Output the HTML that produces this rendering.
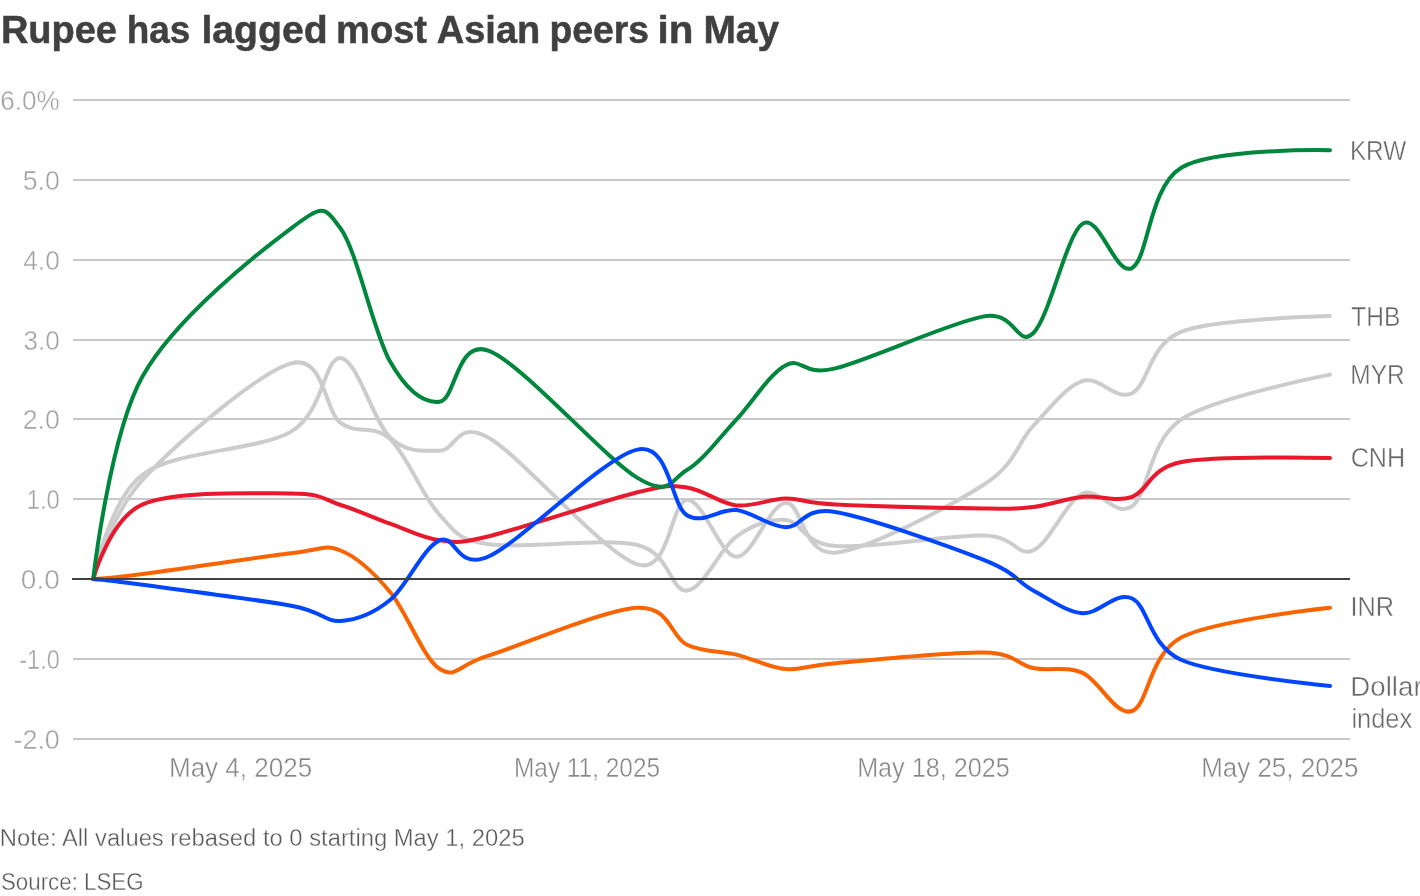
<!DOCTYPE html>
<html><head><meta charset="utf-8"><title>Rupee has lagged most Asian peers in May</title>
<style>
html,body{margin:0;padding:0;background:#fff;}
body{width:1420px;height:896px;overflow:hidden;position:relative;font-family:"Liberation Sans",sans-serif;}
svg{position:absolute;left:0;top:0;}
text{font-family:"Liberation Sans",sans-serif;}
.t{font-weight:bold;font-size:39.5px;fill:#404040;stroke:#404040;stroke-width:0.5px;}
.yl{font-size:27px;fill:#a2a2a2;stroke:#fff;stroke-width:0.4px;paint-order:fill stroke;}
.xl{font-size:27px;fill:#868686;stroke:#fff;stroke-width:0.4px;paint-order:fill stroke;}
.sl{font-size:27px;fill:#686868;stroke:#fff;stroke-width:0.4px;paint-order:fill stroke;}
.nt{font-size:23px;fill:#595959;stroke:#fff;stroke-width:0.35px;paint-order:fill stroke;}
</style></head><body>
<svg width="1420" height="896" viewBox="0 0 1420 896">
<g fill="#c8c8c8" shape-rendering="crispEdges">
<rect x="73" y="99" width="1277" height="2"/>
<rect x="73" y="179" width="1277" height="2"/>
<rect x="73" y="259" width="1277" height="2"/>
<rect x="73" y="339" width="1277" height="2"/>
<rect x="73" y="418" width="1277" height="2"/>
<rect x="73" y="498" width="1277" height="2"/>
<rect x="73" y="658" width="1277" height="2"/>
<rect x="73" y="738" width="1277" height="2"/>
</g>
<path d="M93.25,579.00C93.25,579.00,109.74,515.63,142.72,479.70C175.70,443.77,258.15,372.88,291.13,363.40C324.11,353.92,324.11,410.20,340.60,422.80C357.09,435.40,373.58,423.67,390.07,439.00C406.56,454.33,423.05,497.25,439.54,514.80C456.03,532.35,456.03,539.27,489.01,544.30C521.99,549.33,604.44,537.28,637.42,545.00C670.40,552.72,670.40,592.00,686.89,590.60C703.38,589.20,719.87,548.37,736.36,536.60C752.85,524.83,769.34,518.43,785.83,520.00C802.32,521.57,802.32,543.40,835.30,546.00C868.28,548.60,950.73,534.88,983.71,535.60C1016.69,536.32,1016.69,557.28,1033.18,550.30C1049.67,543.32,1066.16,501.05,1082.65,493.70C1099.14,486.35,1115.63,518.62,1132.12,506.20C1148.61,493.78,1148.61,441.13,1181.59,419.20C1214.57,397.27,1330.00,374.60,1330.00,374.60" fill="none" stroke="#cccccc" stroke-width="4" stroke-linecap="round" stroke-linejoin="round"/>
<path d="M93.25,579.00C93.25,579.00,109.74,499.07,142.72,474.50C175.70,449.93,258.15,451.02,291.13,431.60C324.11,412.18,324.11,357.02,340.60,358.00C357.09,358.98,373.58,422.03,390.07,437.50C406.56,452.97,423.05,450.72,439.54,450.80C456.03,450.88,456.03,419.07,489.01,438.00C521.99,456.93,604.44,554.07,637.42,564.40C670.40,574.73,670.40,501.28,686.89,500.00C703.38,498.72,719.87,556.20,736.36,556.70C752.85,557.20,769.34,503.67,785.83,503.00C802.32,502.33,802.32,555.73,835.30,552.70C868.28,549.67,950.73,505.93,983.71,484.80C1016.69,463.67,1016.69,443.22,1033.18,425.90C1049.67,408.58,1066.16,386.35,1082.65,380.90C1099.14,375.45,1115.63,401.42,1132.12,393.20C1148.61,384.98,1148.61,344.45,1181.59,331.60C1214.57,318.75,1330.00,316.10,1330.00,316.10" fill="none" stroke="#cccccc" stroke-width="4" stroke-linecap="round" stroke-linejoin="round"/>
<path d="M93.25,579.00C93.25,579.00,109.74,518.65,142.72,504.40C175.70,490.15,258.15,493.40,291.13,493.50C324.11,493.60,324.11,499.97,340.60,505.00C357.09,510.03,373.58,517.82,390.07,523.70C406.56,529.58,423.05,538.22,439.54,540.30C456.03,542.38,456.03,544.20,489.01,536.20C521.99,528.20,604.44,500.42,637.42,492.30C670.40,484.18,670.40,485.32,686.89,487.50C703.38,489.68,719.87,503.55,736.36,505.40C752.85,507.25,769.34,498.75,785.83,498.60C802.32,498.45,802.32,502.87,835.30,504.50C868.28,506.13,950.73,507.98,983.71,508.40C1016.69,508.82,1016.69,508.93,1033.18,507.00C1049.67,505.07,1066.16,498.50,1082.65,496.80C1099.14,495.10,1115.63,502.60,1132.12,496.80C1148.61,491.00,1148.61,468.47,1181.59,462.00C1214.57,455.53,1330.00,458.00,1330.00,458.00" fill="none" stroke="#e8192d" stroke-width="4" stroke-linecap="round" stroke-linejoin="round"/>
<path d="M93.25,579.00C93.25,579.00,109.74,578.30,142.72,574.00C175.70,569.70,258.15,557.12,291.13,553.20C324.11,549.28,324.11,544.03,340.60,550.50C357.09,556.97,373.58,572.28,390.07,592.00C406.56,611.72,423.05,658.23,439.54,668.80C456.03,679.37,456.03,665.58,489.01,655.40C521.99,645.22,604.44,609.48,637.42,607.70C670.40,605.92,670.40,636.88,686.89,644.70C703.38,652.52,719.87,650.53,736.36,654.60C752.85,658.67,769.34,667.67,785.83,669.10C802.32,670.53,802.32,665.95,835.30,663.20C868.28,660.45,950.73,651.80,983.71,652.60C1016.69,653.40,1016.69,664.63,1033.18,668.00C1049.67,671.37,1066.16,665.63,1082.65,672.80C1099.14,679.97,1115.63,716.92,1132.12,711.00C1148.61,705.08,1148.61,654.50,1181.59,637.30C1214.57,620.10,1330.00,607.80,1330.00,607.80" fill="none" stroke="#fa6400" stroke-width="4" stroke-linecap="round" stroke-linejoin="round"/>
<path d="M93.25,579.00C93.25,579.00,109.74,434.45,142.72,376.00C175.70,317.55,258.15,252.88,291.13,228.30C324.11,203.72,324.11,206.28,340.60,228.50C357.09,250.72,373.58,332.72,390.07,361.60C406.56,390.48,423.05,403.60,439.54,401.80C456.03,400.00,456.03,338.12,489.01,350.80C521.99,363.48,604.44,458.03,637.42,477.90C670.40,497.77,670.40,479.72,686.89,470.00C703.38,460.28,719.87,437.07,736.36,419.60C752.85,402.13,769.34,373.73,785.83,365.20C802.32,356.67,802.32,376.53,835.30,368.40C868.28,360.27,950.73,322.27,983.71,316.40C1016.69,310.53,1016.69,348.65,1033.18,333.20C1049.67,317.75,1066.16,234.58,1082.65,223.70C1099.14,212.82,1115.63,277.27,1132.12,267.90C1148.61,258.53,1148.61,187.12,1181.59,167.50C1214.57,147.88,1330.00,150.20,1330.00,150.20" fill="none" stroke="#00873d" stroke-width="4" stroke-linecap="round" stroke-linejoin="round"/>
<path d="M93.25,579.00C93.25,579.00,109.74,580.35,142.72,584.80C175.70,589.25,258.15,599.68,291.13,605.70C324.11,611.72,324.11,621.85,340.60,620.90C357.09,619.95,373.58,613.43,390.07,600.00C406.56,586.57,423.05,547.58,439.54,540.30C456.03,533.02,456.03,571.42,489.01,556.30C521.99,541.18,604.44,456.45,637.42,449.60C670.40,442.75,670.40,505.13,686.89,515.20C703.38,525.27,719.87,508.00,736.36,510.00C752.85,512.00,769.34,526.87,785.83,527.20C802.32,527.53,802.32,506.57,835.30,512.00C868.28,517.43,950.73,546.73,983.71,559.80C1016.69,572.87,1016.69,581.50,1033.18,590.40C1049.67,599.30,1066.16,611.85,1082.65,613.20C1099.14,614.55,1115.63,590.70,1132.12,598.50C1148.61,606.30,1148.61,645.42,1181.59,660.00C1214.57,674.58,1330.00,686.00,1330.00,686.00" fill="none" stroke="#0046ff" stroke-width="4" stroke-linecap="round" stroke-linejoin="round"/>

<rect x="72" y="578" width="1278" height="2" fill="#404040" shape-rendering="crispEdges"/>
<g style="filter:grayscale(1)">
<text class="t" x="0.88" y="43.3" textLength="116.12" lengthAdjust="spacingAndGlyphs">Rupee</text>
<text class="t" x="126.63" y="43.3" textLength="63.68" lengthAdjust="spacingAndGlyphs">has</text>
<text class="t" x="201.42" y="43.3" textLength="126.26" lengthAdjust="spacingAndGlyphs">lagged</text>
<text class="t" x="336.07" y="43.3" textLength="90.99" lengthAdjust="spacingAndGlyphs">most</text>
<text class="t" x="436.74" y="43.3" textLength="103.58" lengthAdjust="spacingAndGlyphs">Asian</text>
<text class="t" x="549.61" y="43.3" textLength="99.41" lengthAdjust="spacingAndGlyphs">peers</text>
<text class="t" x="657.45" y="43.3" textLength="35.9" lengthAdjust="spacingAndGlyphs">in</text>
<text class="t" x="703.43" y="43.3" textLength="75.72" lengthAdjust="spacingAndGlyphs">May</text>
<text class="yl" x="0.33" y="110.2" textLength="59.5" lengthAdjust="spacingAndGlyphs">6.0%</text>
<text class="yl" x="22.81" y="190" textLength="37.03" lengthAdjust="spacingAndGlyphs">5.0</text>
<text class="yl" x="23.2" y="269.8" textLength="36.63" lengthAdjust="spacingAndGlyphs">4.0</text>
<text class="yl" x="23.53" y="349.6" textLength="36.3" lengthAdjust="spacingAndGlyphs">3.0</text>
<text class="yl" x="22.81" y="429.3" textLength="37.03" lengthAdjust="spacingAndGlyphs">2.0</text>
<text class="yl" x="26.63" y="509.1" textLength="33.15" lengthAdjust="spacingAndGlyphs">1.0</text>
<text class="yl" x="20.86" y="588.9" textLength="39.01" lengthAdjust="spacingAndGlyphs">0.0</text>
<text class="yl" x="19.23" y="668.7" textLength="40.53" lengthAdjust="spacingAndGlyphs">-1.0</text>
<text class="yl" x="13.5" y="748.5" textLength="46.32" lengthAdjust="spacingAndGlyphs">-2.0</text>
<text class="xl" x="168.97" y="777.3" textLength="143.2" lengthAdjust="spacingAndGlyphs">May 4, 2025</text>
<text class="xl" x="513.99" y="777.3" textLength="146.06" lengthAdjust="spacingAndGlyphs">May 11, 2025</text>
<text class="xl" x="857.13" y="777.3" textLength="152.63" lengthAdjust="spacingAndGlyphs">May 18, 2025</text>
<text class="xl" x="1201.18" y="777.3" textLength="157.31" lengthAdjust="spacingAndGlyphs">May 25, 2025</text>
<text class="sl" x="1349.9" y="159.8" textLength="56.26" lengthAdjust="spacingAndGlyphs">KRW</text>
<text class="sl" x="1351.2" y="326.1" textLength="49.11" lengthAdjust="spacingAndGlyphs">THB</text>
<text class="sl" x="1350.29" y="384" textLength="54.42" lengthAdjust="spacingAndGlyphs">MYR</text>
<text class="sl" x="1350.67" y="466.5" textLength="54.53" lengthAdjust="spacingAndGlyphs">CNH</text>
<text class="sl" x="1350.53" y="616" textLength="43.58" lengthAdjust="spacingAndGlyphs">INR</text>
<text class="sl" x="1350.35" y="695.7" textLength="72.29" lengthAdjust="spacingAndGlyphs">Dollar</text>
<text class="sl" x="1351.46" y="727.9" textLength="60.76" lengthAdjust="spacingAndGlyphs">index</text>
<text class="nt" x="-0.17" y="846.2" textLength="524.77" lengthAdjust="spacingAndGlyphs">Note: All values rebased to 0 starting May 1, 2025</text>
<text class="nt" x="0.93" y="889.9" textLength="142.67" lengthAdjust="spacingAndGlyphs">Source: LSEG</text>

</g>
</svg>
</body></html>
